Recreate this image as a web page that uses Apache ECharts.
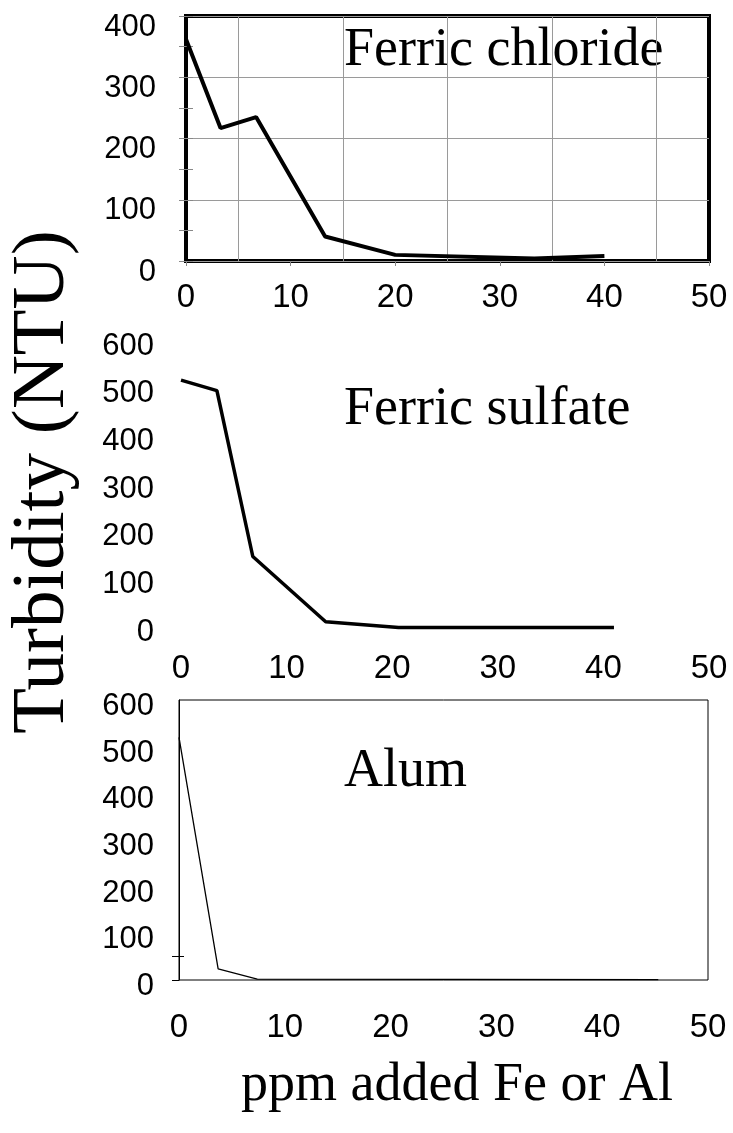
<!DOCTYPE html>
<html>
<head>
<meta charset="utf-8">
<title>Turbidity vs coagulant dose</title>
<script src="https://cdn.jsdelivr.net/npm/echarts@6/dist/echarts.min.js"></script>
<style>
  html, body { margin: 0; padding: 0; background: #fff; }
  #chart { width: 733px; height: 1133px; }
</style>
</head>
<body>
<div id="chart"></div>
<script>
// Dose of added coagulant (ppm Fe or Al) and resulting turbidity (NTU)
const doseChloride = [0, 3.3, 6.7, 13.3, 20, 33.3, 40];
const turbChloride = [362, 217, 235, 40, 10, 4, 8];

const doseSulfate = [0, 3.4, 6.8, 13.7, 20.6, 41];
const turbSulfate = [520, 498, 150, 13, 1, 1];

const doseAlum = [0, 3.7, 7.4, 45.3];
const turbAlum = [520, 24, 2, 1];

// Axis tick labels
const xTicks = [0, 10, 20, 30, 40, 50];
const yTicksChloride = [0, 100, 200, 300, 400];
const yTicksSix = [0, 100, 200, 300, 400, 500, 600];

// Panel captions
const panelNames = ['Ferric chloride', 'Ferric sulfate', 'Alum'];
const yTitle = 'Turbidity (NTU)';
const xTitle = 'ppm added Fe or Al';

const SANS = 'Liberation Sans';
const SERIF = 'Liberation Serif';

function pairs(xs, ys) {
  return xs.map((x, i) => [x, ys[i]]);
}

const numLabel = (extra) => Object.assign({
  color: '#000', fontFamily: SANS, fontSize: 31
}, extra);

const xMin = xTicks[0], xMax = xTicks[xTicks.length - 1];
const yMaxTop = yTicksChloride[yTicksChloride.length - 1];
const yMaxSix = yTicksSix[yTicksSix.length - 1];

const option = {
  animation: false,
  backgroundColor: '#fff',
  grid: [
    { left: 186, top: 16, width: 523, height: 245, show: true,
      borderColor: '#000', borderWidth: 4, backgroundColor: 'transparent' },
    { left: 181, top: 342, width: 528, height: 286 },
    { left: 179, top: 700, width: 529, height: 280, show: true,
      borderColor: '#000', borderWidth: 1, backgroundColor: 'transparent' }
  ],
  xAxis: [
    { gridIndex: 0, type: 'value', min: xMin, max: xMax, interval: 10,
      axisLine: { show: false },
      axisTick: { show: true, length: 5, lineStyle: { color: '#888' } },
      axisLabel: numLabel({ fontSize: 33, margin: 20 }),
      splitLine: { show: false },
      minorTick: { show: false, splitNumber: 2 },
      minorSplitLine: { show: true, lineStyle: { color: '#9a9a9a', width: 1 } } },
    { gridIndex: 1, type: 'value', min: xMin, max: xMax, interval: 10,
      axisLine: { show: false }, axisTick: { show: false },
      axisLabel: numLabel({ fontSize: 33, margin: 24 }),
      splitLine: { show: false } },
    { gridIndex: 2, type: 'value', min: xMin, max: xMax, interval: 10,
      axisLine: { show: false }, axisTick: { show: false },
      axisLabel: numLabel({ fontSize: 33, margin: 31 }),
      splitLine: { show: false } }
  ],
  yAxis: [
    { gridIndex: 0, position: 'left', type: 'value', min: 0, max: yMaxTop, interval: 100,
      axisLine: { show: false },
      axisTick: { show: true, length: 7, lineStyle: { color: '#888' } },
      minorTick: { show: true, splitNumber: 2, length: 7, lineStyle: { color: '#888' } },
      axisLabel: numLabel({ verticalAlign: 'top', lineHeight: 22, margin: 30 }),
      splitLine: { show: true, lineStyle: { color: '#9a9a9a', width: 1 } } },
    { gridIndex: 0, position: 'left', offset: 0, type: 'value', min: 0, max: yMaxTop, interval: 100,
      axisLine: { show: false },
      axisTick: { show: true, inside: true, length: 7, lineStyle: { color: '#888' } },
      minorTick: { show: true, splitNumber: 2, length: 7, lineStyle: { color: '#888' } },
      axisLabel: { show: false }, splitLine: { show: false } },
    { gridIndex: 1, position: 'left', type: 'value', min: 0, max: yMaxSix, interval: 100,
      axisLine: { show: false }, axisTick: { show: false },
      axisLabel: numLabel({ verticalAlign: 'top', lineHeight: 8, margin: 27 }),
      splitLine: { show: false } },
    { gridIndex: 2, position: 'left', type: 'value', min: 0, max: yMaxSix, interval: 100,
      axisLine: { show: true, lineStyle: { color: '#000', width: 1 } },
      axisTick: { show: true, length: 7, customValues: [0, 50], lineStyle: { color: '#000' } },
      axisLabel: numLabel({ verticalAlign: 'top', lineHeight: 13, margin: 25 }),
      splitLine: { show: false } },
    { gridIndex: 2, position: 'left', offset: 0, type: 'value', min: 0, max: yMaxSix, interval: 100,
      axisLine: { show: false },
      axisTick: { show: true, inside: true, length: 5, customValues: [50], lineStyle: { color: '#000' } },
      axisLabel: { show: false }, splitLine: { show: false } }
  ],
  series: [
    { type: 'line', name: panelNames[0], xAxisIndex: 0, yAxisIndex: 0,
      data: pairs(doseChloride, turbChloride), symbol: 'none', clip: false,
      lineStyle: { color: '#000', width: 4 } },
    { type: 'line', name: panelNames[1], xAxisIndex: 1, yAxisIndex: 2,
      data: pairs(doseSulfate, turbSulfate), symbol: 'none', clip: false,
      lineStyle: { color: '#000', width: 3.5 } },
    { type: 'line', name: panelNames[2], xAxisIndex: 2, yAxisIndex: 3,
      data: pairs(doseAlum, turbAlum), symbol: 'none', clip: false,
      lineStyle: { color: '#000', width: 1.3 } }
  ],
  graphic: [
    { type: 'text', x: 344, y: 51,
      style: { text: panelNames[0], fill: '#000', fontFamily: SERIF, fontSize: 54,
               align: 'left', verticalAlign: 'middle' } },
    { type: 'text', x: 344, y: 410,
      style: { text: panelNames[1], fill: '#000', fontFamily: SERIF, fontSize: 54,
               align: 'left', verticalAlign: 'middle' } },
    { type: 'text', x: 344, y: 772,
      style: { text: panelNames[2], fill: '#000', fontFamily: SERIF, fontSize: 54,
               align: 'left', verticalAlign: 'middle' } },
    { type: 'text', x: 43, y: 482, rotation: Math.PI / 2,
      style: { text: yTitle, fill: '#000', fontFamily: SERIF, fontSize: 75,
               align: 'center', verticalAlign: 'middle' } },
    { type: 'text', x: 457, y: 1086,
      style: { text: xTitle, fill: '#000', fontFamily: SERIF, fontSize: 54,
               align: 'center', verticalAlign: 'middle' } }
  ]
};

const chart = echarts.init(document.getElementById('chart'), null, { renderer: 'canvas' });
chart.setOption(option);
</script>
</body>
</html>
